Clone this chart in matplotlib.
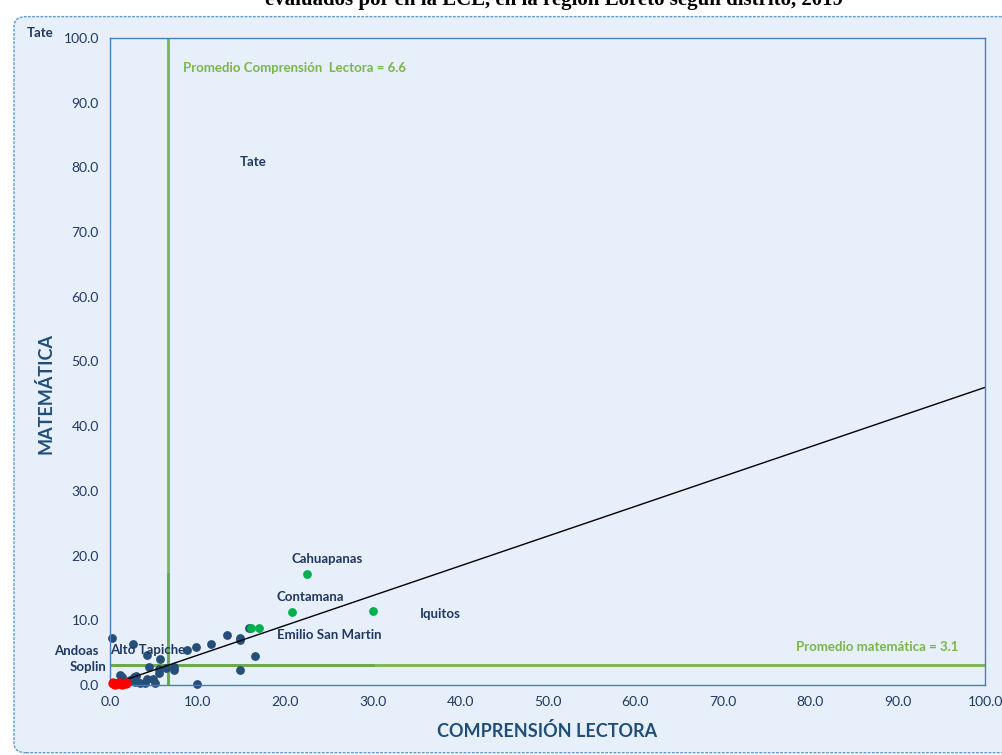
import matplotlib.pyplot as plt
from matplotlib.patches import FancyBboxPatch

# Datos por distrito (% satisfactorio aprox.)
azul_x = [0.2, 2.6, 4.2, 5.7, 8.8, 9.8, 11.5, 13.4, 14.9, 15.9, 16.6, 14.9, 9.9,
          7.3, 7.3, 6.4, 5.6, 5.6, 4.4, 4.2, 4.9, 5.1, 4.0, 3.4, 3.0, 2.7, 2.9,
          2.3, 1.4, 1.1, 14.9]
azul_y = [7.2, 6.4, 4.6, 4.0, 5.4, 5.8, 6.4, 7.7, 7.2, 8.8, 4.5, 2.3, 0.15,
          2.8, 2.3, 2.6, 2.4, 1.8, 2.8, 1.0, 1.0, 0.25, 0.25, 0.25, 1.4, 1.2, 0.5,
          0.8, 1.2, 1.5, 6.9]
verde_x = [22.5, 20.8, 30.1, 16.1, 17.0]
verde_y = [17.2, 11.3, 11.4, 8.8, 8.8]
rojo_x = [0.3, 0.6, 1.0, 1.4, 1.8]
rojo_y = [0.3, 0.2, 0.3, 0.2, 0.3]

prom_cl = 6.6
prom_mat = 3.1
pendiente = 0.46

etiquetas = [("Cahuapanas", 24.8, 19.4), ("Contamana", 22.9, 13.6),
             ("Iquitos", 37.7, 11.0), ("Emilio San Martin", 25.0, 7.8),
             ("Tate", 16.3, 80.8), ("Alto Tapiche", 4.3, 5.4),
             ("Andoas", -3.9, 5.2), ("Soplin", -2.5, 2.8)]

fondo = '#E7EFFB'
navy = '#1F3864'
azul = '#254E78'
verde_lin = '#7AB648'

fig = plt.figure(figsize=(10.02, 7.55), dpi=100)
fig.patch.set_facecolor('white')

marco = FancyBboxPatch((0.014, 0.003), 1.2, 0.975, boxstyle='round,pad=0,rounding_size=0.012',
                       transform=fig.transFigure, facecolor=fondo, edgecolor='#5B9BD5',
                       linestyle=(0, (2, 1)), linewidth=1.0, zorder=-10)
fig.patches.append(marco)

# titulo recortado en el borde superior, como en el original
fig.text(0.553, 1 - 5 / 755, 'evaluados por en la ECE, en la región Loreto según distrito, 2019',
         ha='center', va='baseline', fontsize=15, fontweight='bold', family='Liberation Serif')

ax = fig.add_axes([0.1098, 0.0927, 0.8733, 0.857])
ax.set_facecolor(fondo)
for s in ax.spines.values():
    s.set_color('#4A7EBB')
    s.set_linewidth(1.0)

ax.plot([prom_cl, prom_cl], [0, 100], color=verde_lin, lw=2, zorder=1)
ax.plot([0, 100], [prom_mat, prom_mat], color=verde_lin, lw=2, zorder=1)
ax.plot([prom_cl, prom_cl], [0, 17.2], color='#6AA84F', lw=2, zorder=1)
ax.plot([0, 30.1], [prom_mat, prom_mat], color='#6AA84F', lw=2, zorder=1)
ax.plot([0, 100], [0, pendiente * 100], color='black', lw=1, zorder=3)

ax.scatter(azul_x, azul_y, s=40, color=azul, zorder=2, linewidths=0, clip_on=False)
ax.scatter(verde_x, verde_y, s=40, color='#00B050', zorder=4, linewidths=0, clip_on=False)
ax.scatter(rojo_x, rojo_y, s=55, color='#FF0000', zorder=4, linewidths=0, clip_on=False)

for nombre, x, y in etiquetas:
    ax.text(x, y, nombre, ha='center', va='center', fontsize=9.5, fontweight='bold',
            color=navy, family='Lato', clip_on=False)

ax.text(8.3, 95.4, 'Promedio Comprensión  Lectora = 6.6', fontsize=9.5, fontweight='bold',
        color=verde_lin, family='Lato', va='center')
ax.text(97, 5.9, 'Promedio matemática = 3.1', fontsize=9.5, fontweight='bold',
        color=verde_lin, family='Lato', va='center', ha='right')
fig.text(0.04, 1 - 33 / 755, 'Tate', fontsize=9.5, fontweight='bold', color=navy,
         family='Lato', ha='center', va='center')

ax.set_xlim(0, 100)
ax.set_ylim(0, 100)
ticks = [0, 10, 20, 30, 40, 50, 60, 70, 80, 90, 100]
ax.set_xticks(ticks)
ax.set_yticks(ticks)
ax.set_xticklabels([f'{t:.1f}' for t in ticks])
ax.set_yticklabels([f'{t:.1f}' for t in ticks])
ax.tick_params(length=0, labelsize=10, labelcolor=navy, pad=8)
for lab in ax.get_xticklabels() + ax.get_yticklabels():
    lab.set_family('Lato')

ax.set_xlabel('COMPRENSIÓN LECTORA', fontsize=13, fontweight='bold', color='#1F4E79',
              family='Lato', labelpad=10)
ax.set_ylabel('MATEMÁTICA', fontsize=13, fontweight='bold', color='#1F4E79',
              family='Lato')
ax.yaxis.set_label_coords(-0.064, 0.45)

plt.savefig('out.png', dpi=100, facecolor='white')
